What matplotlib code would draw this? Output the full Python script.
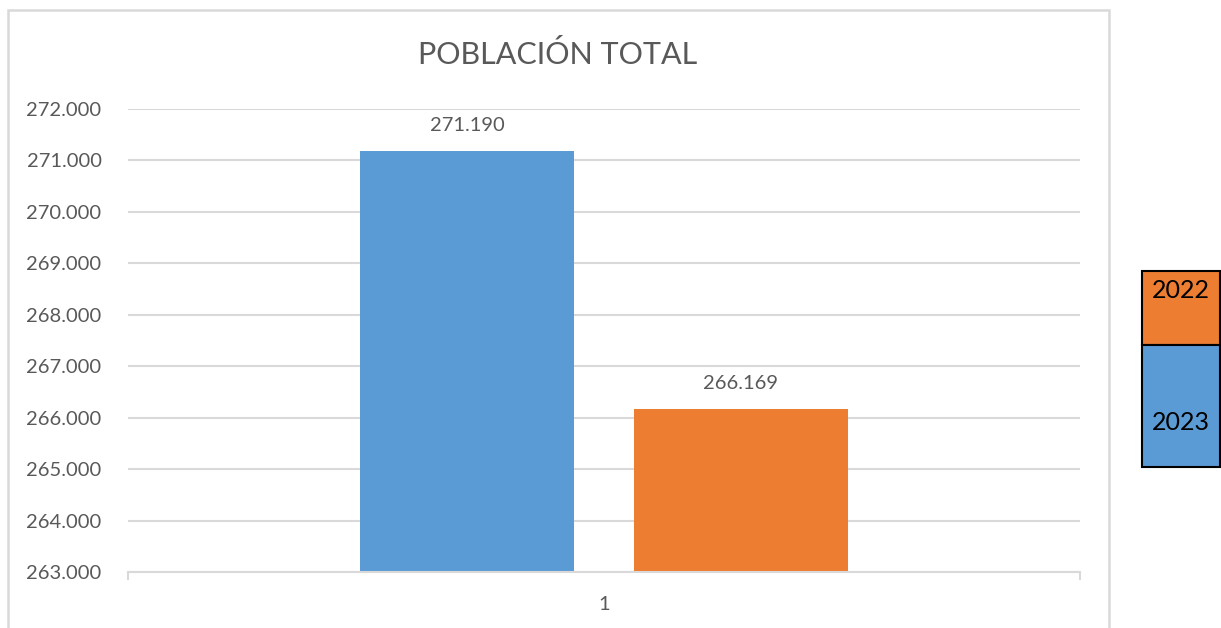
import matplotlib
matplotlib.use('Agg')
from matplotlib import pyplot as plt
from matplotlib.patches import Rectangle

W, H = 1221, 628

years = ['2023', '2022']
population = [271.190, 266.169]
bar_colors = ['#5B9BD5', '#ED7D31']
category = '1'
yticks = [263, 264, 265, 266, 267, 268, 269, 270, 271, 272]

plt.rcParams['font.family'] = ['Lato', 'DejaVu Sans']
grey = '#d9d9d9'
text_col = '#595959'

fig = plt.figure(figsize=(W / 100, H / 100), dpi=100)
ax = fig.add_axes([128 / W, (H - 572) / H, (1080 - 128) / W, (572 - 109) / H])

offsets = [-0.1435, 0.1435]
width = 0.2248
for off, val, col in zip(offsets, population, bar_colors):
    ax.bar(off, val - yticks[0], bottom=yticks[0], width=width, color=col, zorder=3)
    ax.annotate(f'{val:.3f}', (off, val), xytext=(0, 18), textcoords='offset points',
                ha='center', va='center', fontsize=14.5, color=text_col)

ax.set_xlim(-0.5, 0.5)
ax.set_ylim(yticks[0], yticks[-1])
ax.set_yticks(yticks)
ax.set_yticklabels([f'{t}.000' for t in yticks])
ax.set_xticks([0])
ax.set_xticklabels([category])
ax.set_xticks([-0.5, 0.5], minor=True)
ax.tick_params(axis='x', which='major', length=0, pad=17, labelsize=14.5, labelcolor=text_col)
ax.tick_params(axis='x', which='minor', length=6, width=1.5, color=grey, direction='out')
ax.tick_params(axis='y', length=0, pad=19, labelsize=14.5, labelcolor=text_col)
ax.grid(axis='y', color=grey, linewidth=1.5, zorder=0)
for s in ['top', 'right', 'left']:
    ax.spines[s].set_visible(False)
ax.spines['bottom'].set_color(grey)
ax.spines['bottom'].set_linewidth(1.5)
ax.spines['bottom'].set_zorder(4)

fig.text(558 / W, 1 - 54 / H, 'POBLACIÓN TOTAL', ha='center', va='center',
         fontsize=22, color=text_col)

# chart frame
fig.add_artist(Rectangle((8 / W, -0.05), (1109 - 8) / W, 1.05 - 10 / H,
                         transform=fig.transFigure, fill=False, ec=grey, lw=1.8))

# legend boxes
boxes = [(271, 345, bar_colors[1], years[1], 290), (345, 467, bar_colors[0], years[0], 423)]
for top, bot, col, lab, ty in boxes:
    fig.add_artist(Rectangle((1142 / W, 1 - bot / H), (1220 - 1142) / W, (bot - top) / H,
                             transform=fig.transFigure, fc=col, ec='black', lw=1.5))
    fig.text(1181 / W, 1 - ty / H, lab, ha='center', va='center', fontsize=18, color='black')

fig.savefig('out.png', dpi=100)
